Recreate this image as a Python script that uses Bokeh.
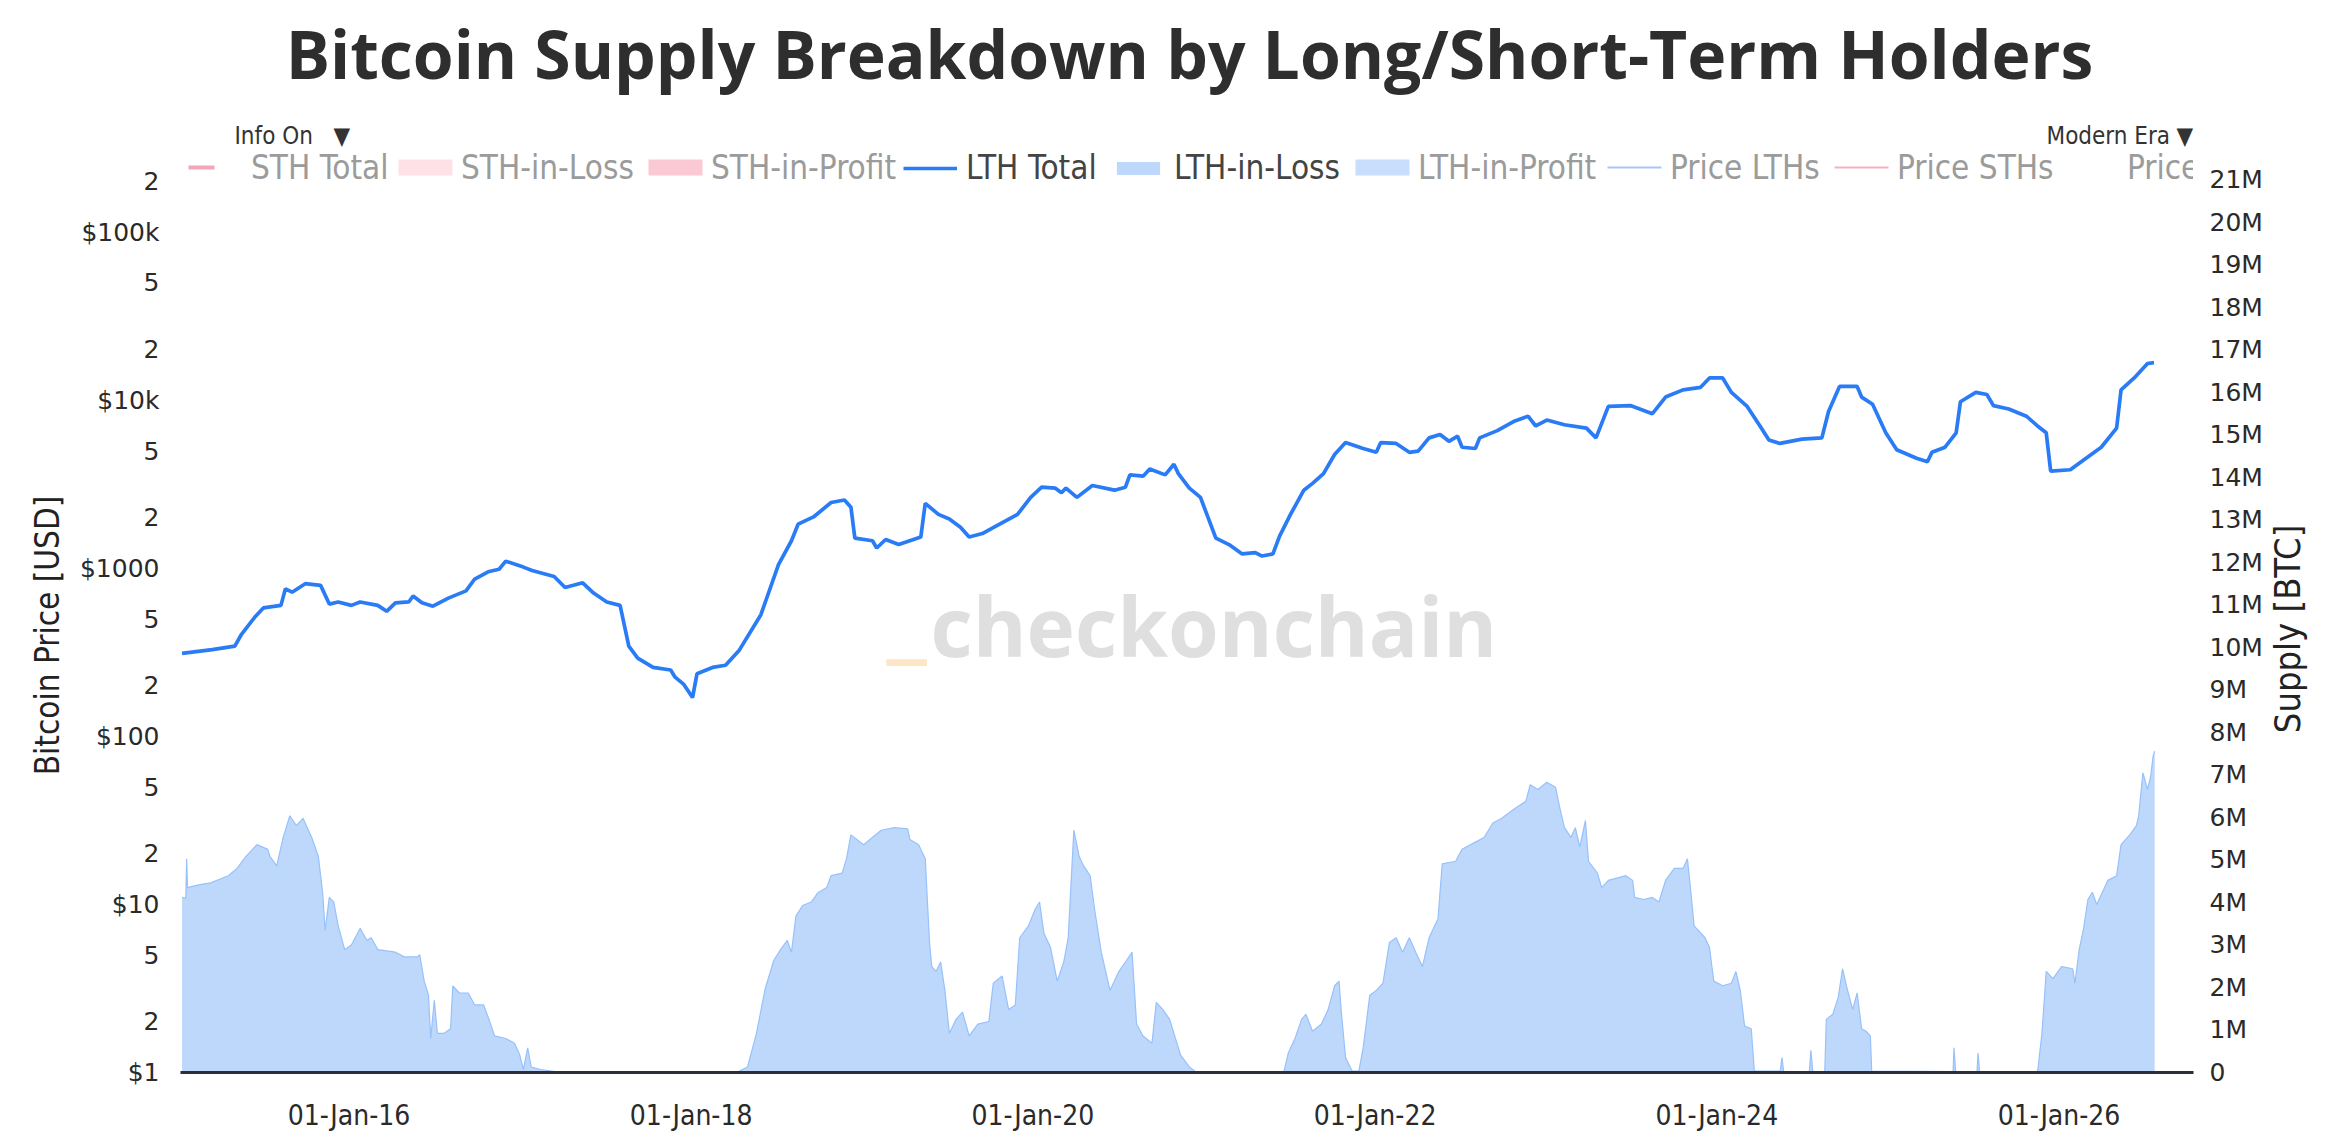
from datetime import datetime
from bokeh.plotting import figure
from bokeh.models import (Range1d, LinearAxis, LinearScale, FixedTicker, CustomJSTickFormatter,
                          DatetimeTickFormatter, Legend, LegendItem, Label, ColumnDataSource,
                          BoxAnnotation)
from bokeh.embed import file_html
from bokeh.resources import INLINE

# ---------------- data (decimal years, supply in millions BTC) ----------------
LTH_TOTAL_T = [2015.023, 2015.20, 2015.332, 2015.371, 2015.448, 2015.499, 2015.602, 2015.628, 2015.667,
               2015.744, 2015.834, 2015.885, 2015.937, 2016.014, 2016.065, 2016.168, 2016.220, 2016.271,
               2016.349, 2016.374, 2016.426, 2016.490, 2016.580, 2016.683, 2016.734, 2016.812, 2016.876,
               2016.915, 2017.018, 2017.069, 2017.198, 2017.262, 2017.365, 2017.429, 2017.506, 2017.584,
               2017.635, 2017.687, 2017.777, 2017.880, 2017.906, 2017.957, 2018.008, 2018.034, 2018.125,
               2018.201, 2018.279, 2018.408, 2018.511, 2018.587, 2018.626, 2018.716, 2018.819, 2018.897,
               2018.935, 2018.958, 2019.061, 2019.086, 2019.138, 2019.215, 2019.344, 2019.370, 2019.447,
               2019.511, 2019.576, 2019.627, 2019.704, 2019.781, 2019.910, 2019.987, 2020.051, 2020.129,
               2020.167, 2020.193, 2020.257, 2020.347, 2020.476, 2020.540, 2020.566, 2020.643, 2020.682,
               2020.772, 2020.823, 2020.849, 2020.913, 2020.978, 2021.068, 2021.145, 2021.222, 2021.299,
               2021.338, 2021.402, 2021.441, 2021.505, 2021.583, 2021.634, 2021.698, 2021.763, 2021.827,
               2021.930, 2022.007, 2022.033, 2022.123, 2022.200, 2022.252, 2022.316, 2022.380, 2022.432,
               2022.483, 2022.509, 2022.587, 2022.612, 2022.715, 2022.818, 2022.895, 2022.940, 2023.005,
               2023.108, 2023.237, 2023.293, 2023.365, 2023.494, 2023.623, 2023.700, 2023.802, 2023.905,
               2023.957, 2024.034, 2024.085, 2024.177, 2024.252, 2024.304, 2024.368, 2024.497, 2024.613,
               2024.652, 2024.716, 2024.819, 2024.845, 2024.909, 2024.986, 2025.050, 2025.166, 2025.230,
               2025.256, 2025.333, 2025.398, 2025.423, 2025.513, 2025.578, 2025.616, 2025.706, 2025.809,
               2025.874, 2025.925, 2025.951, 2026.066, 2026.130, 2026.247, 2026.337, 2026.363, 2026.440,
               2026.479, 2026.518, 2026.556]
LTH_TOTAL_M = [9.86, 9.95, 10.03, 10.31, 10.71, 10.93, 10.99, 11.38, 11.30,
               11.50, 11.46, 11.02, 11.07, 10.99, 11.07, 10.99, 10.85, 11.05,
               11.07, 11.21, 11.05, 10.97, 11.16, 11.33, 11.61, 11.78, 11.84,
               12.03, 11.89, 11.81, 11.67, 11.41, 11.52, 11.28, 11.07, 10.99,
               10.03, 9.75, 9.53, 9.47, 9.30, 9.13, 8.82, 9.38, 9.53,
               9.58, 9.92, 10.77, 11.95, 12.51, 12.90, 13.07, 13.41, 13.47,
               13.30, 12.57, 12.51, 12.34, 12.54, 12.42, 12.60, 13.39, 13.13,
               13.02, 12.83, 12.60, 12.68, 12.85, 13.13, 13.53, 13.77, 13.75,
               13.64, 13.75, 13.53, 13.81, 13.70, 13.77, 14.06, 14.03, 14.20,
               14.06, 14.31, 14.09, 13.75, 13.53, 12.57, 12.42, 12.20, 12.23,
               12.15, 12.20, 12.62, 13.13, 13.70, 13.86, 14.09, 14.54, 14.82,
               14.68, 14.59, 14.82, 14.80, 14.59, 14.62, 14.93, 15.01, 14.85,
               14.97, 14.71, 14.68, 14.93, 15.10, 15.33, 15.44, 15.21, 15.35,
               15.24, 15.16, 14.93, 15.67, 15.69, 15.50, 15.89, 16.06, 16.12,
               16.34, 16.34, 16.00, 15.67, 15.21, 14.88, 14.80, 14.90, 14.93,
               15.55, 16.14, 16.14, 15.89, 15.72, 15.05, 14.65, 14.45, 14.37,
               14.59, 14.71, 15.05, 15.78, 16.00, 15.95, 15.69, 15.61, 15.44,
               15.21, 15.05, 14.15, 14.18, 14.37, 14.71, 15.16, 16.06, 16.34,
               16.51, 16.68, 16.70]

LTH_LOSS_T = [2015.023, 2015.045, 2015.050, 2015.055, 2015.113, 2015.190, 2015.294, 2015.345, 2015.396,
              2015.461, 2015.525, 2015.538, 2015.577, 2015.615, 2015.654, 2015.692, 2015.731, 2015.782,
              2015.821, 2015.847, 2015.860, 2015.885, 2015.911, 2015.937, 2015.975, 2016.014, 2016.065,
              2016.104, 2016.130, 2016.168, 2016.271, 2016.323, 2016.400, 2016.413, 2016.439, 2016.464,
              2016.477, 2016.498, 2016.516, 2016.554, 2016.593, 2016.606, 2016.644, 2016.696, 2016.734,
              2016.786, 2016.817, 2016.850, 2016.915, 2016.966, 2016.997, 2017.018, 2017.043, 2017.064,
              2017.120, 2017.223, 2017.300, 2018.250, 2018.279, 2018.330, 2018.382, 2018.433, 2018.484,
              2018.523, 2018.562, 2018.587, 2018.613, 2018.652, 2018.703, 2018.742, 2018.793, 2018.819,
              2018.884, 2018.909, 2018.935, 2019.009, 2019.112, 2019.189, 2019.267, 2019.280, 2019.331,
              2019.370, 2019.395, 2019.408, 2019.434, 2019.460, 2019.485, 2019.511, 2019.550, 2019.588,
              2019.627, 2019.678, 2019.742, 2019.768, 2019.820, 2019.858, 2019.897, 2019.923, 2019.974,
              2020.013, 2020.039, 2020.064, 2020.103, 2020.142, 2020.180, 2020.206, 2020.239, 2020.270,
              2020.296, 2020.334, 2020.360, 2020.399, 2020.450, 2020.502, 2020.540, 2020.579, 2020.605,
              2020.643, 2020.695, 2020.720, 2020.759, 2020.798, 2020.823, 2020.862, 2020.913, 2020.952,
              2021.000, 2021.460, 2021.467, 2021.492, 2021.531, 2021.570, 2021.595, 2021.634, 2021.686,
              2021.725, 2021.763, 2021.789, 2021.801, 2021.827, 2021.866, 2021.905, 2021.930, 2021.969,
              2022.007, 2022.046, 2022.084, 2022.123, 2022.161, 2022.200, 2022.238, 2022.277, 2022.316,
              2022.368, 2022.393, 2022.471, 2022.509, 2022.587, 2022.638, 2022.689, 2022.741, 2022.818,
              2022.882, 2022.908, 2022.953, 2023.005, 2023.056, 2023.082, 2023.108, 2023.146, 2023.172,
              2023.198, 2023.231, 2023.249, 2023.301, 2023.326, 2023.365, 2023.468, 2023.507, 2023.519,
              2023.571, 2023.623, 2023.661, 2023.700, 2023.751, 2023.802, 2023.828, 2023.841, 2023.867,
              2023.931, 2023.957, 2023.982, 2024.034, 2024.085, 2024.111, 2024.137, 2024.162, 2024.201,
              2024.219, 2024.370, 2024.380, 2024.390, 2024.540, 2024.549, 2024.560, 2024.630, 2024.639,
              2024.677, 2024.708, 2024.734, 2024.760, 2024.793, 2024.819, 2024.845, 2024.871, 2024.896,
              2024.904, 2025.380, 2025.385, 2025.395, 2025.520, 2025.526, 2025.535, 2025.874, 2025.900,
              2025.925, 2025.964, 2026.015, 2026.080, 2026.093, 2026.118, 2026.144, 2026.169, 2026.195,
              2026.221, 2026.247, 2026.286, 2026.337, 2026.363, 2026.414, 2026.453, 2026.466, 2026.491,
              2026.518, 2026.535, 2026.551, 2026.560]
LTH_LOSS_M = [4.12, 4.10, 5.03, 4.35, 4.41, 4.46, 4.63, 4.80, 5.08,
              5.36, 5.25, 5.08, 4.86, 5.53, 6.04, 5.81, 5.98, 5.53,
              5.08, 4.18, 3.34, 4.12, 4.01, 3.45, 2.89, 3.00, 3.39,
              3.11, 3.17, 2.89, 2.83, 2.72, 2.72, 2.77, 2.15, 1.82,
              0.80, 1.70, 0.92, 0.92, 1.03, 2.04, 1.87, 1.87, 1.59,
              1.59, 1.25, 0.86, 0.80, 0.69, 0.41, 0.07, 0.58, 0.13,
              0.07, 0.01, 0.0, 0.0, 0.03, 0.13, 0.92, 1.97, 2.64,
              2.89, 3.11, 2.83, 3.68, 3.93, 4.01, 4.23, 4.35, 4.63,
              4.69, 5.03, 5.59, 5.36, 5.70, 5.76, 5.73, 5.48, 5.36,
              5.03, 3.06, 2.49, 2.38, 2.60, 1.93, 0.92, 1.25, 1.42,
              0.86, 1.14, 1.20, 2.10, 2.27, 1.48, 1.59, 3.17, 3.45,
              3.84, 4.01, 3.28, 2.94, 2.15, 2.60, 3.17, 5.70, 5.08,
              4.86, 4.63, 3.84, 2.83, 1.93, 2.38, 2.60, 2.83, 1.14,
              0.86, 0.69, 1.65, 1.48, 1.25, 0.92, 0.41, 0.13, 0.01,
              0.0, 0.0, 0.03, 0.46, 0.80, 1.25, 1.37, 0.97, 1.14,
              1.48, 2.04, 2.15, 1.48, 0.35, 0.03, 0.03, 0.58, 1.82,
              1.93, 2.10, 3.06, 3.17, 2.83, 3.17, 2.83, 2.49, 3.17,
              3.62, 4.91, 4.97, 5.25, 5.42, 5.53, 5.87, 5.98, 6.21,
              6.38, 6.77, 6.66, 6.83, 6.71, 6.21, 5.76, 5.53, 5.76,
              5.31, 5.93, 4.97, 4.69, 4.35, 4.52, 4.63, 4.52, 4.12,
              4.07, 4.12, 4.01, 4.52, 4.80, 4.80, 5.03, 4.52, 3.45,
              3.17, 2.94, 2.15, 2.04, 2.10, 2.38, 1.93, 1.09, 1.03,
              0.03, 0.03, 0.35, 0.02, 0.02, 0.52, 0.02, 0.02, 1.25,
              1.37, 1.76, 2.44, 1.98, 1.48, 1.87, 1.03, 0.97, 0.86,
              0.03, 0.02, 0.58, 0.02, 0.02, 0.46, 0.02, 0.0, 0.92,
              2.38, 2.21, 2.49, 2.44, 2.10, 2.89, 3.39, 4.07, 4.24,
              3.95, 4.18, 4.52, 4.63, 5.36, 5.59, 5.81, 6.04, 7.05,
              6.66, 6.94, 7.45, 7.56]

X_START, X_END = 2015.014, 2026.787
XTICK_YEARS = [2016, 2018, 2020, 2022, 2024, 2026]
PRICE_TICKS = [1, 2, 5, 10, 20, 50, 100, 200, 500, 1000, 2000, 5000,
               10000, 20000, 50000, 100000, 200000]
SUPPLY_TICKS_M = list(range(0, 22))
# the plot frame reaches the top of the page; these range tops keep the
# 0..21M / $1..$200k scales where the reference has them
PRICE_TOP = 2.40e6
SUPPLY_TOP_M = 25.22

LEGEND_NAMES = ["STH Total", "STH-in-Loss", "STH-in-Profit", "LTH Total", "LTH-in-Loss",
                "LTH-in-Profit", "Price LTHs", "Price STHs", "Price"]
LEGEND_ACTIVE = [False, False, False, True, True, False, False, False, False]

NARROW = "'DejaVu Sans Condensed', 'Liberation Sans', sans-serif"
NBSP = "\u00a0"

# layout: screen x (from frame left) where each legend entry starts, and the
# swatches of the switched-off entries: (x0, x1, half height, colour)
LEGEND_X = [8, 218, 468, 723, 931, 1175, 1427, 1654, 1884]
LEGEND_Y = 885
SWATCH_Y = 905
OFF_SWATCHES = [(8, 34, 2, "#f2a7b8"), (218, 272, 8, "#fde1e7"), (468, 522, 8, "#fbc9d4"),
                (1175, 1229, 8, "#c8defc"), (1427, 1481, 1, "#a8c8f4"), (1654, 1708, 1, "#f3b1c0")]


def to_dt(y):
    yr = int(y)
    a, b = datetime(yr, 1, 1), datetime(yr + 1, 1, 1)
    return a + (b - a) * (y - yr)


def ms(d):
    return (d - datetime(1970, 1, 1)).total_seconds() * 1000.0


# ---------------- figure ----------------
p = figure(width=2346, height=1142, x_axis_type="datetime", y_axis_type="log", title=None,
           x_range=Range1d(to_dt(X_START), to_dt(X_END)), y_range=Range1d(1, PRICE_TOP),
           output_backend="svg", toolbar_location=None,
           min_border_left=180, min_border_right=153, min_border_top=0, min_border_bottom=70)
p.extra_y_ranges = {"supply": Range1d(0, SUPPLY_TOP_M)}
p.extra_y_scales = {"supply": LinearScale()}
p.xgrid.visible = False
p.ygrid.visible = False
p.outline_line_color = None
p.background_fill_color = "white"
p.border_fill_color = "white"

# watermark
p.add_layout(Label(x=706, y=461, x_units="screen", y_units="screen", text="_",
                   text_font="Open Sans", text_font_style="bold", text_font_size="98px",
                   text_color="#fde6c6", text_baseline="alphabetic", level="underlay"))
p.add_layout(Label(x=750, y=448, x_units="screen", y_units="screen", text="checkonchain",
                   text_font="Open Sans", text_font_style="bold", text_font_size="82px",
                   text_color="#dfdfdf", text_baseline="alphabetic", level="underlay"))

loss_src = ColumnDataSource(dict(x=[to_dt(t) for t in LTH_LOSS_T], y=LTH_LOSS_M, y0=[0.0] * len(LTH_LOSS_M)))
tot_src = ColumnDataSource(dict(x=[to_dt(t) for t in LTH_TOTAL_T], y=LTH_TOTAL_M))


def empty():
    return ColumnDataSource(dict(x=[], y=[], y0=[]))


# series switched off in the reference (only their legend entries show, greyed)
r_sth_total = p.line("x", "y", source=empty(), y_range_name="supply", line_color="#f2a7b8", line_width=4)
r_sth_loss = p.varea("x", "y0", "y", source=empty(), y_range_name="supply", fill_color="#fde1e7")
r_sth_profit = p.varea("x", "y0", "y", source=empty(), y_range_name="supply", fill_color="#fbc9d4")
r_lth_profit = p.varea("x", "y0", "y", source=empty(), y_range_name="supply", fill_color="#c8defc")
r_price_lth = p.line("x", "y", source=empty(), y_range_name="supply", line_color="#a8c8f4", line_width=2)
r_price_sth = p.line("x", "y", source=empty(), y_range_name="supply", line_color="#f3b1c0", line_width=2)
r_price = p.line("x", "y", source=empty(), y_range_name="supply", line_color="#cccccc", line_width=2, line_alpha=0.0)

# visible series
r_lth_loss = p.varea("x", "y0", "y", source=loss_src, y_range_name="supply", fill_color="#bed8fc")
p.line("x", "y", source=loss_src, y_range_name="supply", line_color="#97c1fa", line_width=1.2)
r_lth_total = p.line("x", "y", source=tot_src, y_range_name="supply", line_color="#2a7bf6", line_width=3.7)

renderers = [r_sth_total, r_sth_loss, r_sth_profit, r_lth_total, r_lth_loss,
             r_lth_profit, r_price_lth, r_price_sth, r_price]
for name, rend, active, lx in zip(LEGEND_NAMES, renderers, LEGEND_ACTIVE, LEGEND_X):
    p.add_layout(Legend(items=[LegendItem(label=name, renderers=[rend])],
                        orientation="horizontal", location=(lx, LEGEND_Y),
                        label_text_font=NARROW, label_text_font_size="33px",
                        label_text_color="#444444" if active else "#9b9b9b",
                        glyph_width=54, glyph_height=16, label_standoff=9,
                        spacing=0, padding=0, margin=0, border_line_color=None,
                        background_fill_alpha=0.0))
for x0, x1, hh, col in OFF_SWATCHES:
    p.add_layout(BoxAnnotation(left=x0, right=x1, bottom=SWATCH_Y - hh, top=SWATCH_Y + hh,
                               left_units="screen", right_units="screen",
                               bottom_units="screen", top_units="screen",
                               fill_color=col, fill_alpha=1.0, line_color=None))

# title and dropdown texts
p.add_layout(Label(x=1009, y=1020, x_units="screen", y_units="screen",
                   text="Bitcoin Supply Breakdown by Long/Short-Term Holders",
                   text_font="Open Sans", text_font_style="bold", text_font_size="66px",
                   text_color="#2e2e2e", text_align="center", text_baseline="middle"))
for tx, xx in (("Info On", 54), ("▼", 153), ("Modern Era", 1866), ("▼", 1996)):
    p.add_layout(Label(x=xx, y=937, x_units="screen", y_units="screen", text=tx,
                       text_font=NARROW, text_font_size="24px",
                       text_color="#333333", text_baseline="middle"))

# left (log price) axis
ya = p.yaxis[0]
ya.ticker = FixedTicker(ticks=PRICE_TICKS, minor_ticks=[])
ya.formatter = CustomJSTickFormatter(code="""
const m = {1:'$1', 10:'$10', 100:'$100', 1000:'$1000', 10000:'$10k', 100000:'$100k'};
const t = Math.round(tick);
if (m[t] !== undefined) return m[t];
const e = Math.pow(10, Math.floor(Math.log10(t) + 1e-9));
return String(Math.round(t / e));
""")
ya.axis_label = "Bitcoin Price [USD]" + NBSP * 21
ya.axis_label_text_font = NARROW
ya.axis_label_text_font_size = "33px"
ya.axis_label_text_font_style = "normal"
ya.axis_label_text_color = "#222222"
ya.axis_label_standoff = 10
ya.major_label_text_font = "DejaVu Sans"
ya.major_label_text_font_size = "25px"
ya.major_label_text_color = "#2a2a2a"
ya.major_label_standoff = 15
ya.axis_line_color = None
ya.major_tick_line_color = None
ya.minor_tick_line_color = None

# right (supply) axis
ra = LinearAxis(y_range_name="supply", ticker=FixedTicker(ticks=SUPPLY_TICKS_M, minor_ticks=[]),
                formatter=CustomJSTickFormatter(code="return tick == 0 ? '0' : tick + 'M';"))
ra.axis_label_text_font = NARROW
ra.axis_label_text_font_size = "36px"
ra.axis_label_text_font_style = "normal"
ra.axis_label_text_color = "#222222"
ra.axis_label_standoff = 22
ra.major_label_text_font = "DejaVu Sans"
ra.major_label_text_font_size = "25px"
ra.major_label_text_color = "#2a2a2a"
ra.major_label_standoff = 10
ra.axis_line_color = None
ra.major_tick_line_color = None
ra.minor_tick_line_color = None
try:
    ra.axis_label_align = "start"
    ra.axis_label_orientation = 1.5708
    ra.axis_label = NBSP * 33 + "Supply [BTC]"
except Exception:
    ra.axis_label_orientation = "vertical"
    ra.axis_label = NBSP * 25 + "Supply [BTC]"
p.add_layout(ra, "right")

# bottom axis
xa = p.xaxis[0]
xa.ticker = FixedTicker(ticks=[ms(datetime(y, 1, 1)) for y in XTICK_YEARS], minor_ticks=[])
fmt = "%d-%b-%y"
xa.formatter = DatetimeTickFormatter(years=fmt, months=fmt, days=fmt, hours=fmt, minutes=fmt,
                                     hourmin=fmt, seconds=fmt, minsec=fmt, milliseconds=fmt,
                                     microseconds=fmt)
xa.major_label_text_font = NARROW
xa.major_label_text_font_size = "28px"
xa.major_label_text_color = "#2a2a2a"
xa.major_label_standoff = 20
xa.axis_line_color = "#2b2f38"
xa.axis_line_width = 3
xa.major_tick_line_color = None
xa.minor_tick_line_color = None

open("out.html", "w").write(file_html(p, INLINE))
